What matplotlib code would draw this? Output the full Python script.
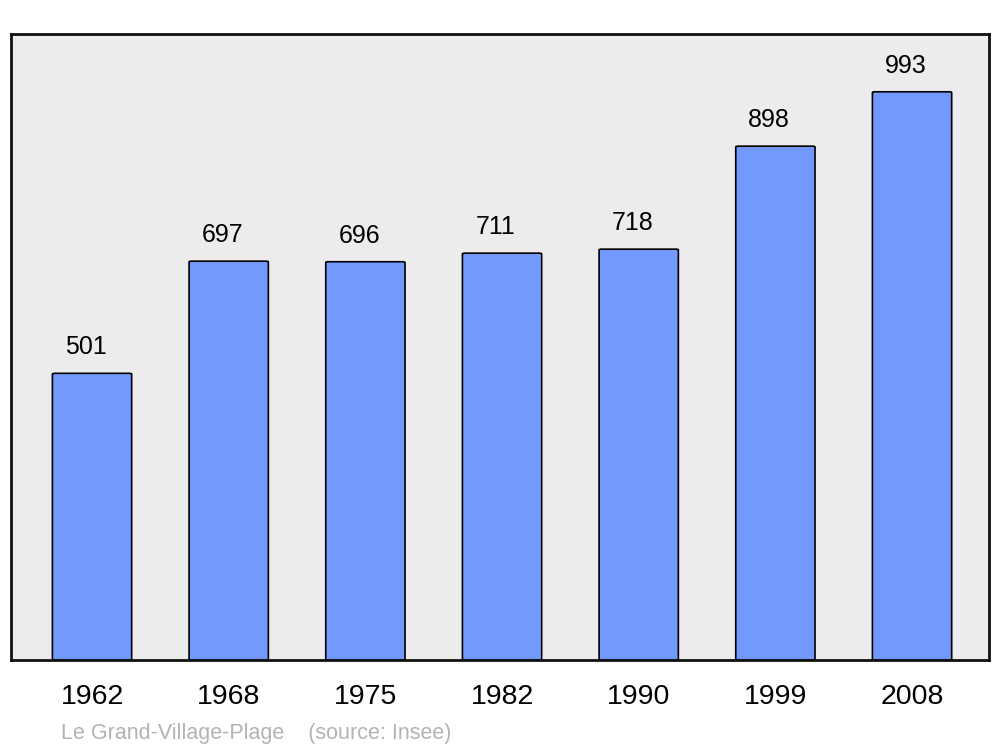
import matplotlib
matplotlib.use("Agg")
import matplotlib.pyplot as plt
from matplotlib.patches import FancyBboxPatch

plt.rcParams['font.family'] = ['Liberation Sans', 'DejaVu Sans']

years = ["1962", "1968", "1975", "1982", "1990", "1999", "2008"]
population = [501, 697, 696, 711, 718, 898, 993]
place = "Le Grand-Village-Plage"
source = "(source: Insee)"

fig = plt.figure(figsize=(10, 7.47), dpi=100)
ax = fig.add_axes([0.011, 1 - 660/747, 0.978, (660-34)/747])
ax.set_facecolor('#ececec')
ax.set_xlim(-0.593, 6.563)
ax.set_ylim(0, 1094)

width = 0.58
for i, v in enumerate(population):
    p = FancyBboxPatch((i - width/2, 0), width, v,
                       boxstyle="round,pad=0,rounding_size=0.02",
                       mutation_aspect=1094/7.156*0.572/1.368*1.0,
                       facecolor='#7399ff', edgecolor='black', linewidth=1.2,
                       zorder=2)
    ax.add_patch(p)
    ax.text(i - 0.045, v + 19/0.572, str(v), ha='center', va='baseline',
            fontsize=18, color='black')

ax.set_xticks(range(len(years)))
ax.set_xticklabels(years, fontsize=20.5)
ax.tick_params(axis='x', length=0, pad=17)
for lbl in ax.get_xticklabels():
    lbl.set_x(lbl.get_position()[0])
ax.set_yticks([])
for s in ax.spines.values():
    s.set_linewidth(2)
    s.set_color('#111111')

fig.text(0.061, 1 - 733/747, place + "    " + source, fontsize=15.5,
         color='#b3b3b3', ha='left', va='center')

fig.savefig("out.png", dpi=100)
